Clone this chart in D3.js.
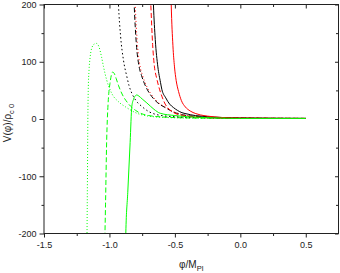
<!DOCTYPE html>
<html><head><meta charset="utf-8">
<script src="https://cdn.jsdelivr.net/npm/d3@7"></script>
<style>body{margin:0;background:#fff}svg{display:block}text{font-family:"Liberation Sans",Arial,sans-serif}</style>
</head><body>
<svg id="c" width="340" height="273"></svg>
<script>
const xMajorTicks=[-1.5,-1.0,-0.5,0.0,0.5];
const xMajorLabels=["-1.5","-1.0","-0.5","0.0","0.5"];
const xMinorTicks=[-1.25,-0.75,-0.25,0.25];
const yMajorTicks=[-200,-100,0,100,200];
const yMajorLabels=["-200","-100","0","100","200"];
const yMinorTicks=[-150,-50,50,150];

const blackSolidPhi=[-0.675,-0.664,-0.650,-0.630,-0.610,-0.600,-0.570,-0.540,-0.511,-0.480,-0.446,-0.400,-0.383,-0.300,-0.200,-0.100,0.000,0.250,0.500];
const blackSolidV=[279,200,139,91,64,52,37,26,20,15,11,8.5,7.5,5,3.3,2.2,1.7,1.2,1];
const redSolidPhi=[-0.540,-0.528,-0.515,-0.503,-0.490,-0.472,-0.450,-0.420,-0.383,-0.340,-0.306,-0.250,-0.200,-0.100,0.000,0.250,0.500];
const redSolidV=[338,200,128,91,67,48,32,21,14,9.4,7.2,5,3.7,2.1,1.6,1.2,1];
const redDashedPhi=[-0.700,-0.684,-0.670,-0.656,-0.640,-0.625,-0.600,-0.574,-0.540,-0.500,-0.440,-0.350,-0.200,0.000,0.500];
const redDashedV=[290,200,130,91,72,58,40,26,16,10,6,3.5,2,1.5,1];
const blackDashedPhi=[-0.825,-0.811,-0.795,-0.773,-0.755,-0.740,-0.710,-0.676,-0.630,-0.574,-0.510,-0.446,-0.350,-0.200,0.000,0.500];
const blackDashedV=[300,200,133,91,76,66,51,39,28,20,12,7.5,4.5,2.5,1.5,1];
const redDottedPhi=[-0.817,-0.803,-0.787,-0.765,-0.747,-0.732,-0.702,-0.668,-0.622,-0.566,-0.502,-0.438,-0.342,-0.192,0.000,0.500];
const redDottedV=[300,200,133,91,76,66,51,39,28,20,12,7.5,4.5,2.5,1.5,1];
const blackDottedPhi=[-0.945,-0.931,-0.915,-0.893,-0.867,-0.850,-0.829,-0.800,-0.753,-0.700,-0.626,-0.500,-0.300,0.000,0.500];
const blackDottedV=[290,200,145,103,74,58,45,33,22,13,7,4,2.5,1.5,1];
const greenDottedPhi=[-1.172,-1.168,-1.165,-1.162,-1.156,-1.148,-1.135,-1.115,-1.098,-1.080,-1.060,-1.046,-1.021,-0.983,-0.930,-0.876,-0.800,-0.700,-0.550,-0.300,0.000,0.500];
const greenDottedV=[-220,-100,0,50,85,107,124,131,132,126,108,92,68,45,30,21,11,5,2.5,1.5,1,1];
const greenDashedPhi=[-1.036,-1.030,-1.021,-1.012,-1.005,-0.996,-0.986,-0.976,-0.962,-0.949,-0.930,-0.900,-0.860,-0.800,-0.700,-0.550,-0.300,0.000,0.500];
const greenDashedV=[-220,-150,-36,20,45,62,76,82,79,71,58,42,28,15,6,3,1.5,1,1];
const greenSolidPhi=[-0.877,-0.875,-0.860,-0.842,-0.829,-0.815,-0.800,-0.791,-0.775,-0.750,-0.714,-0.660,-0.612,-0.500,-0.408,-0.200,0.000,0.500];
const greenSolidV=[-220,-200,-128,-41,22,35,41,42,40,35,28,17,10,6,4,2,1,1];

const series=[
 {phi:greenDottedPhi,v:greenDottedV,color:"#00ff00",dash:"1,2"},
 {phi:greenDashedPhi,v:greenDashedV,color:"#00ff00",dash:"5,2.5"},
 {phi:blackDottedPhi,v:blackDottedV,color:"#000",dash:"1.5,2.5"},
 {phi:blackDashedPhi,v:blackDashedV,color:"#000",dash:"5,2.5"},
 {phi:redDottedPhi,v:redDottedV,color:"#ff0000",dash:"1,2.5"},
 {phi:redDashedPhi,v:redDashedV,color:"#ff0000",dash:"5,2.5"},
 {phi:blackSolidPhi,v:blackSolidV,color:"#000",dash:null},
 {phi:redSolidPhi,v:redSolidV,color:"#ff0000",dash:null},
 {phi:greenSolidPhi,v:greenSolidV,color:"#00ff00",dash:null}
];

const L=44,R=338.5,T=4.5,B=233.5;
const x=d3.scaleLinear().domain([-1.5,0.75]).range([L,R]);
const y=d3.scaleLinear().domain([-200,200]).range([B,T]);
const svg=d3.select("#c");

svg.append("clipPath").attr("id","clip").append("rect")
 .attr("x",L).attr("y",T).attr("width",R-L).attr("height",B-T);

const line=d3.line().x(d=>x(d[0])).y(d=>y(d[1])).curve(d3.curveMonotoneX);
const g=svg.append("g").attr("clip-path","url(#clip)");
series.forEach(s=>{
  const pts=s.phi.map((p,i)=>[p,s.v[i]]);
  g.append("path").datum(pts).attr("d",line).attr("fill","none")
   .attr("stroke",s.color).attr("stroke-width",1)
   .attr("stroke-dasharray",s.dash);
});

const ax="#222";
function styleAxis(sel){sel.select(".domain").remove();sel.selectAll("line").attr("stroke",ax);sel.selectAll("text").attr("fill","#222").style("font-size","9px");}
svg.append("g").attr("transform",`translate(0,${B})`)
 .call(d3.axisBottom(x).tickValues(xMajorTicks).tickFormat((d,i)=>xMajorLabels[i]).tickSize(4).tickPadding(4)).call(styleAxis);
svg.append("g").attr("transform",`translate(0,${B})`)
 .call(d3.axisBottom(x).tickValues(xMinorTicks).tickFormat("").tickSize(2.5)).call(styleAxis);
svg.append("g").attr("transform",`translate(0,${T})`)
 .call(d3.axisBottom(x).tickValues(xMajorTicks).tickFormat("").tickSize(4)).call(styleAxis);
svg.append("g").attr("transform",`translate(0,${T})`)
 .call(d3.axisBottom(x).tickValues(xMinorTicks).tickFormat("").tickSize(2.5)).call(styleAxis);
svg.append("g").attr("transform",`translate(${L},0)`)
 .call(d3.axisLeft(y).tickValues(yMajorTicks).tickFormat((d,i)=>yMajorLabels[i]).tickSize(4.5).tickPadding(3)).call(styleAxis);
svg.append("g").attr("transform",`translate(${L},0)`)
 .call(d3.axisLeft(y).tickValues(yMinorTicks).tickFormat("").tickSize(2.5)).call(styleAxis);
svg.append("g").attr("transform",`translate(${R},0)`)
 .call(d3.axisLeft(y).tickValues(yMajorTicks).tickFormat("").tickSize(3.5)).call(styleAxis);
svg.append("g").attr("transform",`translate(${R},0)`)
 .call(d3.axisLeft(y).tickValues(yMinorTicks).tickFormat("").tickSize(2.5)).call(styleAxis);

svg.append("rect").attr("x",L).attr("y",T).attr("width",R-L).attr("height",B-T)
 .attr("fill","none").attr("stroke","#222").attr("stroke-width",1);

const xt=svg.append("text").attr("x",(L+R)/2).attr("y",268).attr("text-anchor","middle")
 .attr("fill","#222").style("font-size","10px");
xt.append("tspan").text("φ/M");
xt.append("tspan").attr("dy",3).style("font-size","7.5px").text("Pl");

const yt=svg.append("text").attr("transform",`translate(10.5,${(T+B)/2+4}) rotate(-90)`)
 .attr("text-anchor","middle").attr("fill","#222").style("font-size","10px");
yt.append("tspan").text("V(φ)/ρ");
yt.append("tspan").attr("dy",3).style("font-size","7.5px").text("c 0");
</script>
</body></html>
